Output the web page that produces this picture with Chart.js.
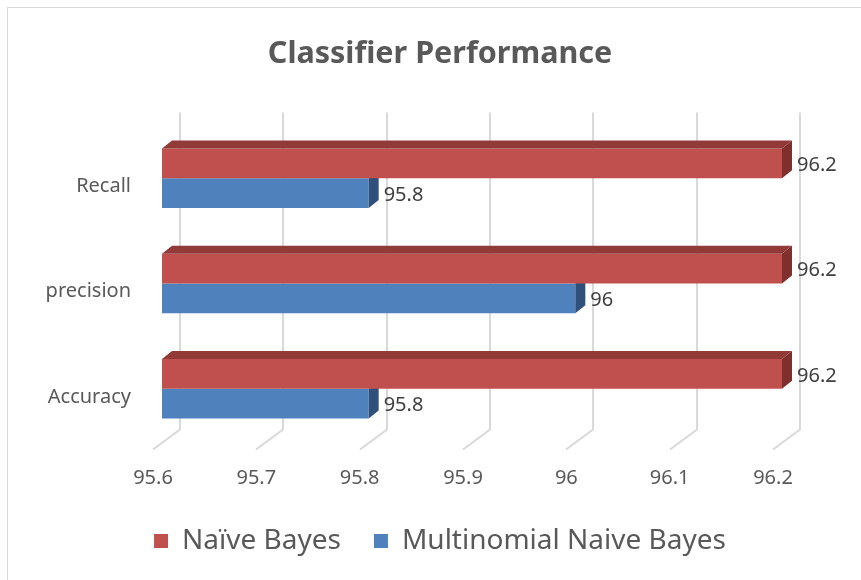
<!DOCTYPE html>
<html>
<head>
<meta charset="utf-8">
<script src="https://cdn.jsdelivr.net/npm/chart.js@4.4.1/dist/chart.umd.min.js"></script>
<style>
  html, body { margin: 0; padding: 0; background: #fff; overflow: hidden; }
  #wrap { position: relative; width: 861px; height: 580px; }
  #frame { position: absolute; left: 7px; top: 7px; width: 900px; height: 620px; border: 1px solid #d9d9d9; }
  canvas { position: absolute; left: 0; top: 0; }
</style>
</head>
<body>
<div id="wrap">
  <div id="frame"></div>
  <canvas id="chart" width="861" height="580"></canvas>
</div>
<script>
// chart data
const categories = ["Recall", "precision", "Accuracy"];
const naiveBayes = [96.2, 96.2, 96.2];
const multinomialNB = [95.8, 96, 95.8];
const xTickValues = [95.6, 95.7, 95.8, 95.9, 96, 96.1, 96.2];

const FONT = "'Noto Sans', 'Open Sans', sans-serif";
const TEXT = "#595959";
const DEPTH_X = 10, DEPTH_Y = 8;   // bar depth
const faces = [
  { top: "#923a38", side: "#7f2f2d" },   // red
  { top: "#3a6190", side: "#30507c" },   // blue
];

// fake 3d: grid floor behind, top + side faces on bars, value labels
const bar3d = {
  id: "bar3d",
  beforeDatasetsDraw(chart) {
    const { ctx, chartArea: a, scales: { x } } = chart;
    ctx.save();
    ctx.strokeStyle = "#d9d9d9";
    ctx.lineWidth = 2;
    x.ticks.forEach((t) => {
      const px = Math.round(x.getPixelForValue(t.value));
      ctx.beginPath();
      ctx.moveTo(px + 18, a.top - 13);
      ctx.lineTo(px + 18, a.bottom - 12);
      ctx.lineTo(px - 9, a.bottom + 8);
      ctx.stroke();
    });
    ctx.restore();
  },
  afterDatasetDraw(chart, args) {
    const { ctx, chartArea: a } = chart;
    const f = faces[args.index];
    ctx.save();
    args.meta.data.forEach((bar) => {
      const { x, y, base, height } = bar.getProps(["x", "y", "base", "height"], true);
      const left = Math.max(base, a.left);
      const top = y - height / 2, bot = y + height / 2;
      if (args.index === 0) {
        ctx.fillStyle = f.top;
        ctx.beginPath();
        ctx.moveTo(left, top);
        ctx.lineTo(left + DEPTH_X, top - DEPTH_Y);
        ctx.lineTo(x + DEPTH_X, top - DEPTH_Y);
        ctx.lineTo(x, top);
        ctx.closePath();
        ctx.fill();
      }
      ctx.fillStyle = f.side;
      ctx.beginPath();
      ctx.moveTo(x, top);
      ctx.lineTo(x + DEPTH_X, top - DEPTH_Y);
      ctx.lineTo(x + DEPTH_X, bot - DEPTH_Y);
      ctx.lineTo(x, bot);
      ctx.closePath();
      ctx.fill();
    });
    ctx.restore();
  },
  afterDatasetsDraw(chart) {
    const { ctx } = chart;
    ctx.save();
    ctx.font = "20px " + FONT;
    ctx.fillStyle = "#404040";
    ctx.textAlign = "left";
    ctx.textBaseline = "middle";
    chart.data.datasets.forEach((ds, i) => {
      chart.getDatasetMeta(i).data.forEach((bar, j) => {
        ctx.fillText(String(ds.data[j]), bar.x + 15, bar.y + 2);
      });
    });
    ctx.restore();
  },
};

new Chart(document.getElementById("chart"), {
  type: "bar",
  data: {
    labels: categories,
    datasets: [
      { label: "Naïve Bayes", data: naiveBayes, backgroundColor: "#c0504d" },
      { label: "Multinomial Naive Bayes", data: multinomialNB, backgroundColor: "#4f81bd" },
    ],
  },
  options: {
    indexAxis: "y",
    responsive: false,
    animation: false,
    categoryPercentage: 0.565,
    barPercentage: 1,
    layout: { padding: { left: 19, right: 0, top: 0, bottom: 15 } },
    scales: {
      x: {
        min: 95.6,
        max: 96.2,
        afterBuildTicks: (s) => { s.ticks = xTickValues.map((v) => ({ value: v })); },
        afterFit: (s) => { s.height = 52.5; },
        grid: { display: false, drawTicks: false },
        border: { display: false },
        ticks: {
          font: { family: FONT, size: 20 },
          color: TEXT,
          padding: 25,
          labelOffset: -9,
          maxRotation: 0,
          callback: (v) => String(v),
        },
      },
      y: {
        afterFit: (s) => { s.width = 143; },
        grid: { display: false, drawTicks: false },
        border: { display: false },
        ticks: {
          font: { family: FONT, size: 20 },
          color: TEXT,
          padding: 31,
          labelOffset: 8,
        },
      },
      // empty right gutter where the value labels sit
      yRight: {
        axis: "y",
        position: "right",
        afterFit: (s) => { s.width = 79; },
        grid: { display: false, drawTicks: false },
        border: { display: false },
        ticks: { display: false },
      },
    },
    plugins: {
      title: {
        display: true,
        text: "Classifier Performance",
        font: { family: FONT, size: 30.5, weight: "bold" },
        color: TEXT,
        padding: { top: 36, bottom: 53 },
      },
      legend: {
        position: "bottom",
        labels: {
          font: { family: FONT, size: 28 },
          color: TEXT,
          boxWidth: 14,
          boxHeight: 14,
          padding: 33,
        },
      },
      tooltip: { enabled: false },
    },
  },
  plugins: [bar3d],
});
</script>
</body>
</html>
